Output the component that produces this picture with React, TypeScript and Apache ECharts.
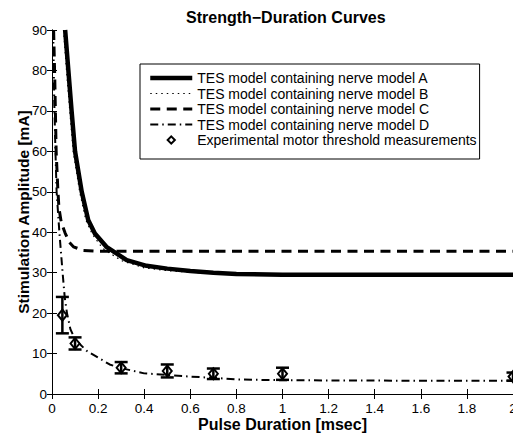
import React, { useEffect, useRef } from "react";
import * as echarts from "echarts";

const seriesNames = [
  "TES model containing nerve model A",
  "TES model containing nerve model B",
  "TES model containing nerve model C",
  "TES model containing nerve model D",
  "Experimental motor threshold measurements",
];

const titleText = "Strength\u2212Duration Curves";
const xLabel = "Pulse Duration [msec]";
const yLabel = "Stimulation Amplitude [mA]";

const modelA: [number, number][] = [
  [0.057, 90], [0.071, 80], [0.085, 70], [0.1, 60], [0.129, 50], [0.157, 43],
  [0.186, 39.7], [0.236, 36.4], [0.324, 33.1], [0.41, 31.7], [0.5, 31], [0.6, 30.4],
  [0.7, 30], [0.8, 29.7], [1, 29.5], [2, 29.5],
];
const modelB: [number, number][] = [
  [0.05, 90], [0.063, 80], [0.077, 70], [0.092, 60], [0.12, 50], [0.147, 43],
  [0.175, 39.5], [0.22, 36], [0.3, 33], [0.4, 31.2], [0.5, 30.5], [0.6, 30.1],
  [0.7, 29.8], [0.8, 29.6], [1, 29.5], [2, 29.5],
];
const modelC: [number, number][] = [
  [0.007, 90], [0.012, 78], [0.018, 60], [0.025, 51], [0.03, 46], [0.04, 42.5],
  [0.057, 39.8], [0.075, 37.5], [0.093, 36.4], [0.135, 35.5], [0.2, 35.3], [2, 35.3],
];
const modelD: [number, number][] = [
  [0.005, 90], [0.01, 72], [0.015, 60], [0.02, 50], [0.032, 40], [0.046, 30],
  [0.055, 24], [0.065, 20], [0.08, 16], [0.1, 13.5], [0.15, 10.7], [0.2, 9],
  [0.25, 7.3], [0.3, 6.4], [0.4, 5.1], [0.5, 4.7], [0.6, 4.3], [0.7, 4.0],
  [0.8, 3.6], [1, 3.4], [1.5, 3.3], [2, 3.3],
];

const expDuration = [0.045, 0.1, 0.3, 0.5, 0.7, 1, 2];
const expMean = [19.5, 12.5, 6.5, 5.7, 5.0, 5.0, 4.3];
const expErr = [4.5, 1.5, 1.4, 1.6, 1.3, 1.5, 1.0];

const xMin = 0, xMax = 2, xStep = 0.2;
const yMin = 0, yMax = 90, yStep = 10;

export default function App() {
  const ref = useRef<HTMLDivElement>(null);
  useEffect(() => {
    const chart = echarts.init(ref.current!, null, { renderer: "svg" });
    const font = "Liberation Sans";
    const black = "#000";
    const styleA = { width: 4.5 };
    const styleB = { width: 1.2, type: [1.5, 4] };
    const styleC = { width: 3, type: [10, 6.5] };
    const styleD = { width: 2, type: [8, 4, 1.5, 4] };
    const lineSeries = (name: string, data: [number, number][], lineStyle: any) => ({
      name,
      type: "line",
      data,
      symbol: "none",
      showSymbol: false,
      silent: true,
      clip: true,
      z: 2,
      itemStyle: { color: black },
      lineStyle: { color: black, ...lineStyle },
    });
    const axisCommon = {
      type: "value",
      axisLine: { show: true, lineStyle: { color: black, width: 1 } },
      axisTick: { show: true, inside: true, length: 5, lineStyle: { color: black, width: 1 } },
      splitLine: { show: false },
    };
    chart.setOption({
      animation: false,
      backgroundColor: "#fff",
      title: {
        text: titleText,
        left: 181,
        top: 4,
        textStyle: { fontFamily: font, fontSize: 16, fontWeight: "bold", color: black },
      },
      legend: {
        orient: "vertical",
        left: 140,
        top: 64,
        padding: [7, 3, 12, 8],
        itemWidth: 42,
        itemHeight: 9,
        itemGap: 1.5,
        borderColor: black,
        borderWidth: 1,
        borderRadius: 0,
        backgroundColor: "#fff",
        textStyle: { fontFamily: font, fontSize: 14, color: black },
        data: [
          { name: seriesNames[0], itemStyle: { opacity: 0 }, lineStyle: { color: black, ...styleA } },
          { name: seriesNames[1], itemStyle: { opacity: 0 }, lineStyle: { color: black, ...styleB } },
          { name: seriesNames[2], itemStyle: { opacity: 0 }, lineStyle: { color: black, ...styleC } },
          { name: seriesNames[3], itemStyle: { opacity: 0 }, lineStyle: { color: black, ...styleD } },
          { name: seriesNames[4], lineStyle: { opacity: 0, width: 0 } },
        ],
        z: 10,
      },
      grid: { left: 52, right: 0, top: 30, bottom: 42, outerBoundsMode: "none", containLabel: false },
      xAxis: [
        {
          ...axisCommon,
          position: "bottom",
          min: xMin,
          max: xMax,
          interval: xStep,
          axisLabel: { color: black, fontFamily: font, fontSize: 13.5, margin: 7 },
          name: xLabel,
          nameLocation: "middle",
          nameGap: 22,
          nameMoveOverlap: false,
          nameTextStyle: { fontFamily: font, fontSize: 16, fontWeight: "bold", color: black },
        },
        {
          ...axisCommon,
          position: "top",
          min: xMin,
          max: xMax,
          interval: xStep,
          axisLabel: { show: false },
        },
      ],
      yAxis: [
        {
          ...axisCommon,
          position: "left",
          min: yMin,
          max: yMax,
          interval: yStep,
          axisLabel: { color: black, fontFamily: font, fontSize: 13.5, margin: 5 },
          name: yLabel,
          nameLocation: "middle",
          nameGap: 21,
          nameMoveOverlap: false,
          nameTextStyle: { fontFamily: font, fontSize: 15.5, fontWeight: "bold", color: black },
        },
        {
          ...axisCommon,
          position: "right",
          min: yMin,
          max: yMax,
          interval: yStep,
          axisLabel: { show: false },
        },
      ],
      series: [
        lineSeries(seriesNames[0], modelA, styleA),
        lineSeries(seriesNames[1], modelB, styleB),
        lineSeries(seriesNames[2], modelC, styleC),
        lineSeries(seriesNames[3], modelD, styleD),
        {
          name: seriesNames[4],
          type: "line",
          data: expDuration.map((x, i) => [x, expMean[i]]),
          symbol: "diamond",
          symbolSize: [9, 11],
          showSymbol: true,
          silent: true,
          clip: true,
          z: 3,
          lineStyle: { width: 0, opacity: 0, color: black },
          itemStyle: { color: "#fff", borderColor: black, borderWidth: 2 },
        },
        {
          name: "errorbars",
          type: "custom",
          silent: true,
          clip: true,
          z: 4,
          data: expDuration.map((x, i) => [x, expMean[i] - expErr[i], expMean[i] + expErr[i]]),
          encode: { x: 0, y: [1, 2] },
          renderItem: (params: any, api: any) => {
            const x = api.value(0);
            const p1 = api.coord([x, api.value(1)]);
            const p2 = api.coord([x, api.value(2)]);
            const hw = 6.5;
            const style = { stroke: black, lineWidth: 2.5 };
            return {
              type: "group",
              children: [
                { type: "line", shape: { x1: p1[0], y1: p1[1], x2: p2[0], y2: p2[1] }, style },
                { type: "line", shape: { x1: p1[0] - hw, y1: p1[1], x2: p1[0] + hw, y2: p1[1] }, style },
                { type: "line", shape: { x1: p2[0] - hw, y1: p2[1], x2: p2[0] + hw, y2: p2[1] }, style },
              ],
            };
          },
        },
      ],
    });
    return () => chart.dispose();
  }, []);
  return (
    <div
      ref={ref}
      style={{ position: "fixed", left: 0, top: 0, width: 513, height: 436, background: "#fff" }}
    />
  );
}
